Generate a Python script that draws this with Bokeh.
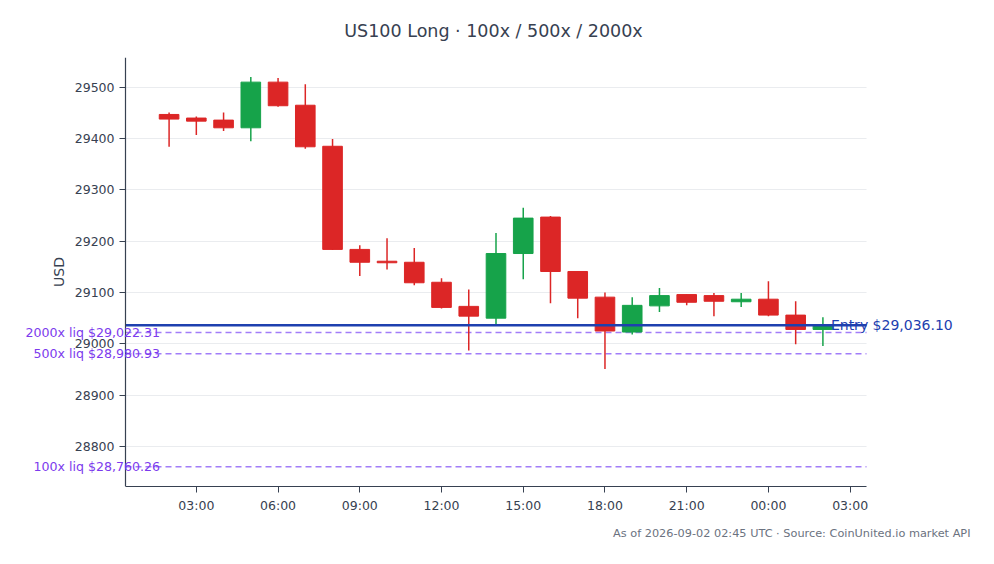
import pandas as pd
from bokeh.plotting import figure
from bokeh.core.properties import value
from bokeh.models import (ColumnDataSource, LabelSet, Label, Title, Range1d,
                          FixedTicker, SingleIntervalTicker, DatetimeTickFormatter)
from bokeh.embed import file_html
from bokeh.resources import INLINE

# hourly candles, US100, starting 2026-09-01 02:00 UTC
start = "2026-09-01 02:00"
opens = [29447, 29440, 29436, 29421, 29510, 29465, 29385, 29184, 29161, 29159,
         29120, 29073, 29050, 29176, 29247, 29141, 29091, 29023, 29074, 29096,
         29094, 29082, 29087, 29056, 29028]
highs = [29451, 29443, 29451, 29520, 29518, 29506, 29399, 29192, 29206, 29187,
         29128, 29106, 29216, 29265, 29249, 29141, 29100, 29091, 29109, 29096,
         29099, 29099, 29122, 29083, 29052]
lows = [29384, 29407, 29415, 29395, 29462, 29380, 29183, 29132, 29145, 29114,
        29069, 28987, 29036, 29126, 29079, 29050, 28951, 29018, 29062, 29075,
        29054, 29072, 29054, 28999, 28996]
closes = [29438, 29434, 29421, 29510, 29464, 29384, 29184, 29159, 29158, 29119,
          29071, 29054, 29176, 29245, 29141, 29089, 29025, 29075, 29094, 29081,
          29083, 29087, 29056, 29028, 29036.10]

entry = 29036.10
liq_names = ["2000x", "500x", "100x"]
liq_levels = [29022.31, 28980.93, 28760.26]

title = "US100 Long \u00b7 100x / 500x / 2000x"
footer = "As of 2026-09-02 02:45 UTC \u00b7 Source: CoinUnited.io market API"

RED = "#dc2626"
GREEN = "#16a34a"
INK = "#374151"
FONT = "DejaVu Sans"

times = pd.date_range(start, periods=len(opens), freq="h")
tick_times = pd.date_range("2026-09-01 03:00", "2026-09-02 03:00", freq="3h")
hour_ms = 3600 * 1000

def ms(t):
    return t.timestamp() * 1000

# the axes cover the candles with 1.6h of padding; the frame itself is wider
# so that the level labels left of the y axis and right of the plot are not cut
lo = ms(times[0]) - 1.6 * hour_ms
hi = ms(times[-1]) + 1.6 * hour_ms
px_per_h = 741 / ((hi - lo) / hour_ms)
x_range = Range1d(lo - (115 / px_per_h) * hour_ms, hi + (110 / px_per_h) * hour_ms)

colors = [GREEN if c >= o else RED for o, c in zip(opens, closes)]
src = ColumnDataSource(dict(
    t=times, open=opens, high=highs, low=lows, close=closes,
    top=[max(o, c) for o, c in zip(opens, closes)],
    bottom=[min(o, c) for o, c in zip(opens, closes)],
    color=colors,
))

p = figure(width=988, height=560, x_axis_type="datetime",
           output_backend="svg", toolbar_location=None,
           x_range=x_range, y_range=Range1d(28722, 29558),
           min_border_left=10, min_border_right=12,
           min_border_top=57, min_border_bottom=74)

p.title.text = title
p.title.align = "center"
p.title.text_font = FONT
p.title.text_font_size = "17.5px"
p.title.text_font_style = "normal"
p.title.text_color = INK
p.title.standoff = 34

p.outline_line_color = None
p.xgrid.grid_line_color = None
p.ygrid.grid_line_color = "#e5e7eb"
p.ygrid.grid_line_alpha = 0.8
p.ygrid.cross_bounds = (lo, hi)

p.xaxis.ticker = FixedTicker(ticks=[ms(t) for t in tick_times])
p.xaxis.formatter = DatetimeTickFormatter(hours="%H:%M", days="%H:%M",
                                          hourmin="%H:%M", minutes="%H:%M")
p.xaxis.bounds = (lo, hi)
p.yaxis.ticker = SingleIntervalTicker(interval=100)
p.yaxis.fixed_location = lo
p.yaxis.axis_label = "USD"
p.yaxis.axis_label_text_font_style = "normal"
p.yaxis.axis_label_text_font_size = "14px"
p.yaxis.axis_label_text_color = INK
p.yaxis.axis_label_text_font = FONT
p.axis.major_label_text_font = FONT
p.axis.major_label_text_font_size = "12.5px"
p.axis.major_label_text_color = INK
p.axis.axis_line_color = INK
p.axis.axis_line_width = 1.2
p.axis.major_tick_line_color = INK
p.axis.minor_tick_line_color = None
p.axis.major_tick_in = 0
p.axis.major_tick_out = 6

# liquidation levels
liq_src = ColumnDataSource(dict(
    x0=[lo] * len(liq_levels), x1=[hi] * len(liq_levels),
    x=[ms(times[0])] * len(liq_levels), y=liq_levels,
    label=[f"{n} liq ${v:,.2f}" for n, v in zip(liq_names, liq_levels)],
))
p.segment(x0="x0", y0="y", x1="x1", y1="y", source=liq_src,
          line_color="#8b5cf6", line_alpha=0.8, line_width=1.5,
          line_dash="6 4", level="underlay")
p.add_layout(LabelSet(x="x", y="y", text="label", source=liq_src,
                      x_offset=-9, text_align="right", text_baseline="middle",
                      text_color="#7c3aed", text_font=value(FONT),
                      text_font_size="12.6px"))

# candles
p.segment(x0="t", y0="low", x1="t", y1="high", source=src,
          line_color="color", line_width=1.5)
p.vbar(x="t", width=0.72 * hour_ms, top="top", bottom="bottom", source=src,
       fill_color="color", line_color="color")

# entry
p.segment(x0=[lo], y0=[entry], x1=[hi], y1=[entry],
          line_color="#1e40af", line_width=2.5)
p.add_layout(Label(x=ms(times[-1]), y=entry, x_offset=8,
                   text=f"Entry ${entry:,.2f}", text_align="left",
                   text_baseline="middle", text_color="#1e40af",
                   text_font=FONT, text_font_size="14px"))

p.add_layout(Title(text=footer, align="right", offset=6, standoff=18,
                   text_font=FONT, text_font_size="11.3px",
                   text_font_style="normal", text_color="#6b7280"), "below")

open("out.html", "w").write(file_html(p, INLINE))
